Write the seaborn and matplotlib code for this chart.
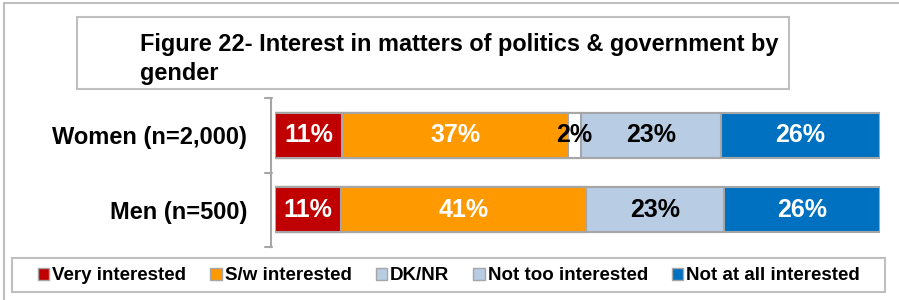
import matplotlib
matplotlib.use("Agg")
import matplotlib.pyplot as plt
from matplotlib.patches import Patch, Rectangle
import numpy as np
import pandas as pd
import seaborn as sns

# data
groups = ["Women (n=2,000)", "Men (n=500)"]
series = ["Very interested", "S/w interested", "DK/NR", "Not too interested", "Not at all interested"]
very = [11, 11]
somewhat = [37, 41]
dknr = [2, 0]
not_too = [23, 23]
not_at_all = [26, 26]

colors = ["#c00000", "#ff9900", "#b8cce4", "#b8cce4", "#0070c0"]
text_colors = ["white", "white", "black", "black", "white"]
edge = "#a6a6a6"

sns.set_theme(style="white")
plt.rcParams["font.family"] = ["Liberation Sans", "DejaVu Sans"]
plt.rcParams["font.weight"] = "bold"
plt.rcParams["text.color"] = "black"

vals = np.array([very, somewhat, dknr, not_too, not_at_all], dtype=float)
pct = vals / vals.sum(axis=0) * 100  # 100% stacked
cum = pct.cumsum(axis=0)

fig = plt.figure(figsize=(8.99, 3.0), dpi=100)
ax = fig.add_axes([275 / 899, 1 - 247 / 300, 605 / 899, 149 / 300])

# draw stacked bars back to front
for k in range(len(series) - 1, -1, -1):
    df = pd.DataFrame({"group": groups, "value": cum[k]})
    sns.barplot(data=df, x="value", y="group", orient="h", color=colors[k],
                width=0.6, edgecolor=edge, linewidth=1.5, saturation=1, ax=ax)

# Women DK/NR drawn white in the original
dk_layer = len(series) - 1 - 2
ax.patches[dk_layer * 2 + 0].set_facecolor("white")

for k in range(len(series)):
    for i in range(len(groups)):
        if vals[k, i] <= 0:
            continue
        xc = cum[k, i] - pct[k, i] / 2
        ax.text(xc, i, f"{int(vals[k, i])}%", ha="center", va="center",
                color=text_colors[k], fontsize=18, fontweight="bold")

for yb in [-0.5, 0.5, 1.5]:
    ax.plot([-1.6, -0.5], [yb, yb], color=edge, lw=1.5, clip_on=False)

ax.set_xlim(0, 100)
ax.set_ylim(1.5, -0.5)
ax.set_xlabel("")
ax.set_ylabel("")
ax.set_xticks([])
ax.set_yticks([0, 1])
ax.set_yticklabels(groups)
ax.tick_params(axis="y", length=0, pad=17, labelsize=17, labelcolor="black")
for lab in ax.get_yticklabels():
    lab.set_fontweight("bold")
for s in ["top", "right", "bottom"]:
    ax.spines[s].set_visible(False)
ax.spines["left"].set_color(edge)
ax.spines["left"].set_linewidth(1.5)
ax.spines["left"].set_position(("outward", 3))

# outer frame
fig.patches.append(Rectangle((4 / 899, -0.05), 1.1, 1 - 3 / 300 + 0.05, transform=fig.transFigure,
                             fill=False, edgecolor="#bfbfbf", lw=1.5))
# title box
fig.patches.append(Rectangle((77 / 899, 1 - 89 / 300), 712 / 899, 72 / 300, transform=fig.transFigure,
                             fill=False, edgecolor="#bfbfbf", lw=1.5))
fig.text(140 / 899, 1 - 59 / 300, "Figure 22- Interest in matters of politics & government by\ngender",
         ha="left", va="center", fontsize=16.9, fontweight="bold", linespacing=1.35, color="black")

# legend box
fig.patches.append(Rectangle((12 / 899, 1 - 292 / 300), 873 / 899, 34 / 300, transform=fig.transFigure,
                             fill=False, edgecolor="#bfbfbf", lw=1.5))
handles = [Patch(facecolor=c, edgecolor=edge, label=s) for c, s in zip(colors, series)]
leg = fig.legend(handles=handles, loc="center", bbox_to_anchor=(449 / 899, 1 - 276 / 300), ncol=5,
                 frameon=False, handlelength=0.6, handleheight=0.6, handletextpad=0.15,
                 columnspacing=1.3, prop={"weight": "bold", "size": 13.5})
for t in leg.get_texts():
    t.set_color("black")

fig.savefig("out.png", dpi=100)
